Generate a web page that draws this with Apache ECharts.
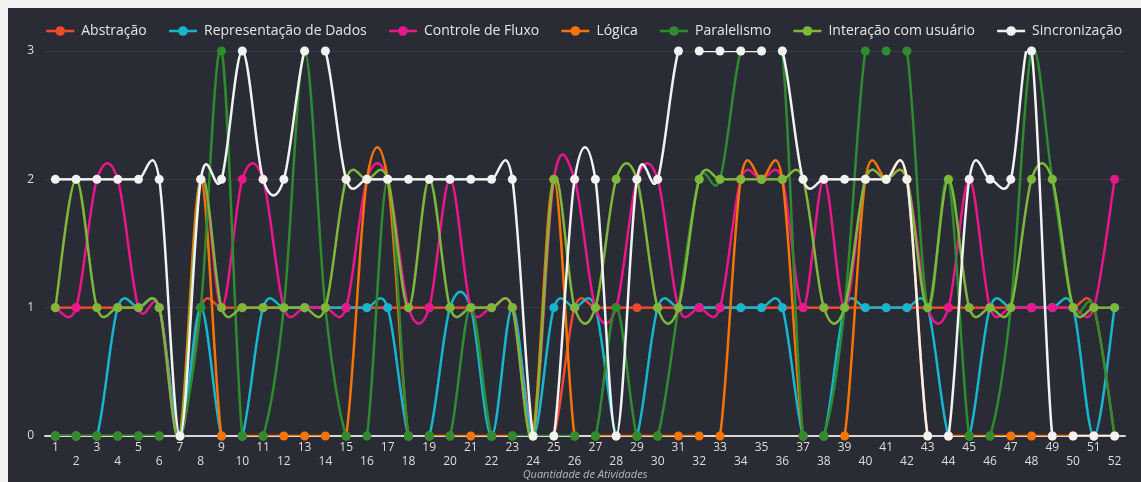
<!DOCTYPE html>
<html>
<head>
<meta charset="utf-8">
<script src="https://cdn.jsdelivr.net/npm/echarts@6/dist/echarts.min.js"></script>
<style>
  html, body { margin: 0; padding: 0; overflow: hidden; background: #f2f2f2; }
  #chart { position: absolute; left: 8px; top: 8px; width: 1133px; height: 474px; background: #2a2c35; }
</style>
</head>
<body>
<div id="chart"></div>
<script>
// categorias do eixo x
var atividades = ['1','2','3','4','5','6','7','8','9','10','11','12','13','14','15','16','17','18','19','20',
  '21','22','23','24','25','26','27','28','29','30','31','32','33','34','35','36','37','38','39','40',
  '41','42','43','44','45','46','47','48','49','50','51','52'];

// valores por conceito
var abstracao = [1,1,1,1,1,1,0,1,1,1, 1,1,1,1,1,1,1,1,1,1, 1,1,1,0,0,1,1,1,1,1, 1,1,1,1,1,1,1,1,1,1, 1,1,1,1,1,1,1,1,1,1, 1,0];
var representacao = [0,0,0,1,1,1,0,1,0,0, 1,1,1,1,1,1,1,0,0,1, 1,0,1,0,1,1,1,0,0,1, 1,1,1,1,1,1,0,0,1,1, 1,1,1,0,0,1,1,1,1,1, 0,1];
var controle = [1,1,2,2,1,1,0,2,1,2, 2,1,1,1,1,2,2,1,1,2, 1,1,1,0,2,2,1,1,2,2, 1,1,1,2,2,2,1,2,1,2, 2,2,1,1,2,1,1,1,1,1, 1,2];
var logica = [0,0,0,0,0,0,0,2,0,0, 0,0,0,0,0,2,2,0,0,0, 0,0,0,0,2,0,0,0,0,0, 0,0,0,2,2,2,0,0,0,2, 2,2,0,0,0,0,0,0,0,0, 0,0];
var paralelismo = [0,0,0,0,0,0,0,1,3,0, 0,1,3,1,0,0,2,0,0,0, 1,0,0,0,0,0,0,1,0,0, 1,2,2,3,3,3,0,0,1,3, 3,3,1,2,0,0,1,3,2,1, 1,0];
var interacao = [1,2,1,1,1,1,0,2,1,1, 1,1,1,1,2,2,2,1,2,1, 1,1,1,0,2,1,1,2,2,1, 1,2,2,2,2,2,2,1,1,2, 2,2,1,2,1,1,1,2,2,1, 1,1];
var sincronizacao = [2,2,2,2,2,2,0,2,2,3, 2,2,3,3,2,2,2,2,2,2, 2,2,2,0,0,2,2,0,2,2, 3,3,3,3,3,3,2,2,2,2, 2,2,0,0,2,2,2,3,0,0, 0,0];

var nomes = ['Abstração','Representação de Dados','Controle de Fluxo','Lógica','Paralelismo','Interação com usuário','Sincronização'];
var cores = ['#f0492f','#17b6cf','#e9168c','#f57404','#2e8b2e','#7db83a','#f2f2f2'];
var valores = [abstracao, representacao, controle, logica, paralelismo, interacao, sincronizacao];

// curva catmull-rom (a suavização nativa não passa dos pontos)
function curva(cor) {
  return function (params, api) {
    var i = params.dataIndexInside;
    var n = params.dataInsideLength;
    if (i >= n - 1) return null;
    function pt(k) {
      k = Math.max(0, Math.min(n - 1, k));
      return api.coord([api.value(0, k), api.value(1, k)]);
    }
    var p0 = pt(i - 1), p1 = pt(i), p2 = pt(i + 1), p3 = pt(i + 2);
    return {
      type: 'bezierCurve',
      shape: {
        x1: p1[0], y1: p1[1], x2: p2[0], y2: p2[1],
        cpx1: p1[0] + (p2[0] - p0[0]) / 6, cpy1: p1[1] + (p2[1] - p0[1]) / 6,
        cpx2: p2[0] - (p3[0] - p1[0]) / 6, cpy2: p2[1] - (p3[1] - p1[1]) / 6
      },
      style: { stroke: cor, lineWidth: 2.5, fill: null }
    };
  };
}

var series = [];
for (var i = 0; i < nomes.length; i++) {
  series.push({
    name: nomes[i] + '_curva',
    type: 'custom',
    renderItem: curva(cores[i]),
    data: valores[i].map(function (v, k) { return [k, v]; }),
    encode: { x: 0, y: 1 },
    clip: true,
    silent: true,
    z: 2 + 2 * i
  });
  series.push({
    name: nomes[i],
    type: 'line',
    data: valores[i],
    symbol: 'circle',
    symbolSize: 9,
    showAllSymbol: true,
    itemStyle: { color: cores[i] },
    lineStyle: { color: cores[i], width: 2.5, opacity: 0 },
    emphasis: { disabled: true },
    z: 3 + 2 * i
  });
}

var option = {
  animation: false,
  textStyle: { fontFamily: 'Open Sans' },
  legend: {
    top: 11,
    left: 32,
    itemWidth: 28,
    itemHeight: 12,
    itemGap: 21,
    lineStyle: { width: 2.5, opacity: 1 },
    textStyle: { color: '#e6e6e6', fontSize: 14, padding: [0, 0, 0, 2] },
    data: nomes
  },
  grid: { left: 37, right: 16, top: 43, bottom: 46, outerBoundsMode: 'none' },
  xAxis: {
    type: 'category',
    data: atividades,
    name: 'Quantidade de Atividades',
    nameLocation: 'middle',
    nameGap: 33,
    nameMoveOverlap: false,
    nameTextStyle: { color: '#b8b8b8', fontSize: 11, fontStyle: 'italic' },
    axisLine: { lineStyle: { color: '#d8d8d8', width: 2 } },
    axisTick: { show: false },
    axisLabel: {
      interval: 0,
      color: '#dedede',
      fontSize: 12,
      margin: 5,
      lineHeight: 14,
      formatter: function (v, idx) { return idx % 2 ? '\n' + v : v; }
    },
    splitLine: { show: false }
  },
  yAxis: {
    type: 'value',
    min: 0,
    max: 3,
    interval: 1,
    axisLine: { show: false },
    axisTick: { show: false },
    axisLabel: { color: '#dedede', fontSize: 12, margin: 11 },
    splitLine: { lineStyle: { color: '#383b45' } }
  },
  series: series
};

var myChart = echarts.init(document.getElementById('chart'));
myChart.setOption(option);
window.addEventListener('resize', function () { myChart.resize(); }, false);
</script>
</body>
</html>
